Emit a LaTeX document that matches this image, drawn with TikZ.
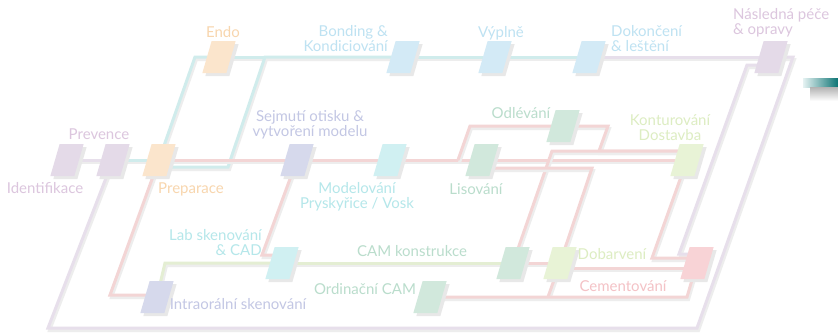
\documentclass[tikz,border=0pt]{standalone}
\usepackage{fontspec}
\setmainfont{Lato}
\usetikzlibrary{calc}
\pgfdeclarelayer{bg}
\pgfsetlayers{bg,main}
\definecolor{lavbox}{HTML}{E4DAE8}
\definecolor{lavl}{HTML}{E7DFEB}
\definecolor{lavt}{HTML}{DCC6DE}
\definecolor{orabox}{HTML}{FBE5CC}
\definecolor{orat}{HTML}{F8D6AE}
\definecolor{blubox}{HTML}{D3EAF6}
\definecolor{blut}{HTML}{BEE2F2}
\definecolor{teall}{HTML}{D0ECEC}
\definecolor{indbox}{HTML}{D6D9EC}
\definecolor{indt}{HTML}{C3C7E4}
\definecolor{cyabox}{HTML}{D0F0F2}
\definecolor{cyat}{HTML}{B5E7EA}
\definecolor{grnbox}{HTML}{D1E8DC}
\definecolor{grnt}{HTML}{BADDCC}
\definecolor{limbox}{HTML}{E8F3D6}
\definecolor{limt}{HTML}{DDEDC2}
\definecolor{pnkbox}{HTML}{F8D3D6}
\definecolor{pnkt}{HTML}{F4C2C6}
\definecolor{redl}{HTML}{F3D5D5}
\definecolor{grnl}{HTML}{E4EED3}
\tikzset{
  stagebox/.style={rectangle, minimum width=24bp, minimum height=32bp, inner sep=0pt,
    fill=#1, xslant=0.29, transform shape},
  lbl/.style={text=#1, font=\fontsize{15bp}{15bp}\selectfont, inner sep=0pt},
  route/.style={draw=#1, line width=3bp,
    preaction={draw=black!7, line width=3bp, transform canvas={shift={(1.5bp,-2.5bp)}}}},
}
\begin{document}
\begin{tikzpicture}[x=1bp,y=-1bp]
    \useasboundingbox (0,0) rectangle (838,335);
    \foreach \n/\x/\y/\c in {ident/67/160/lavbox,prev/113/160/lavbox,prep/159/160/orabox,%
    endo/219/57/orabox,bond/403/57/blubox,vypl/495/57/blubox,dokon/589/57/blubox,nasl/771/57/lavbox,%
    sejm/297/160/indbox,model/390/160/cyabox,lis/482/160/grnbox,odl/563/126/grnbox,kont/687/160/limbox,%
    lab/282/263/cyabox,intra/157/297/indbox,camk/513/263/grnbox,dobar/560/263/limbox,%
    cem/697/263/pnkbox,ordin/430/297/grnbox}
    {
    \begin{scope}[shift={(\x,\y)}]
    \node[stagebox=black!9] at (3,3) {};
    \node[stagebox=\c] (\n) at (0,0) {};
    \end{scope}
    }
    \node[lbl=lavt] (identl) at (45,188) {Identifikace};
    \node[lbl=lavt] (prevl) at (99,134) {Prevence};
    \node[lbl=orat] (prepl) at (191,189) {Preparace};
    \node[lbl=orat] (endol) at (223,32) {Endo};
    \node[lbl=blut, align=right, anchor=east] (bondl) at (388,39) {Bonding \&\\Kondiciování};
    \node[lbl=blut] (vypll) at (501,33) {Výplně};
    \node[lbl=blut, align=left, anchor=west] (dokonl) at (611,39) {Dokončení\\\& leštění};
    \node[lbl=lavt, align=left, anchor=west] (nasll) at (733,23) {Následná péče\\\& opravy};
    \node[lbl=indt, align=center] (sejml) at (310,125) {Sejmutí otisku \&\\vytvoření modelu};
    \node[lbl=cyat, align=center] (modell) at (357,197) {Modelování\\Pryskyřice / Vosk};
    \node[lbl=grnt] (lisl) at (476,189) {Lisování};
    \node[lbl=grnt] (odll) at (521,113) {Odlévání};
    \node[lbl=limt, align=center] (kontl) at (670,128) {Konturování\\Dostavba};
    \node[lbl=cyat, align=right, anchor=east] (labl) at (262,243) {Lab skenování\\\& CAD};
    \node[lbl=indt] (intral) at (238,304) {Intraorální skenování};
    \node[lbl=grnt] (camkl) at (412,251) {CAM konstrukce};
    \node[lbl=grnt] (ordinl) at (365,289) {Ordinační CAM};
    \node[lbl=limt] (dobarl) at (612,254) {Dobarvení};
    \node[lbl=pnkt] (ceml) at (623,286) {Cementování};
    \shade[left color=teal!10, right color=teal!85!black] (803,78) rectangle (840,87);
    \shade[top color=black!30, bottom color=white] (810,87) rectangle (840,101);
    \begin{pgfonlayer}{bg}
    \fill[white] (0,0) rectangle (838,335);
    \draw[route=teall] (prev.center) -- (prep.center);
    \draw[route=teall] (prep.center) -- ++(36,-103) -- (endo.center);
    \draw[route=teall] (endo.center) -- (bond.center);
    \draw[route=teall] (bond.center) -- (vypl.center);
    \draw[route=teall] (vypl.center) -- (dokon.center);
    \draw[route=teall] ($(prep)+(0,7)$) -- ++(69,0) -- ++(37,-110) -- (bond.center);
    \draw[route=lavl] (ident.center) -- (prev.center);
    \draw[route=lavl] (dokon.center) -- (nasl.center);
    \draw[route=lavl] ($(nasl)+(0,8)$) -- ++(-24,0) -- ++(-68,189) -- ($(cem)+(0,-9)$);
    \draw[route=lavl] (nasl.center) -- ++(22,0) -- ++(-96,271) -- ++(-649,0) -- (prev.center);
    \draw[route=redl] (prep.center) -- (sejm.center);
    \draw[route=redl] (sejm.center) -- (model.center);
    \draw[route=redl] (model.center) -- (lis.center);
    \draw[route=redl] (lis.center) -- (kont.center);
    \draw[route=redl] (lis.center) ++(-24,0) -- ++(12,-34) -- (odl.center);
    \draw[route=redl] (odl.center) -- ++(45,0) -- ++(-9,25) -- ($(kont)+(0,-9)$);
    \draw[route=redl] (camk.center) -- ++(39,-112) -- ($(kont)+(0,-9)$);
    \draw[route=redl] ($(lis)+(0,8)$) -- ++(110,0) -- (dobar.center);
    \draw[route=redl] (dobar.center) -- ++(-12,34);
    \draw[route=redl] (ordin.center) -- ++(257,0) -- (cem.center);
    \draw[route=redl] (kont.center) -- ++(-35,98) -- ($(cem)+(0,-5)$);
    \draw[route=redl] (camk.center) -- (dobar.center);
    \draw[route=redl] ($(dobar)+(0,5)$) -- ($(cem)+(0,5)$);
    \draw[route=redl] (sejm.center) -- ++(-35,95) -- ($(lab)+(0,-8)$);
    \draw[route=redl] (prep.center) -- ++(-49,135) -- ($(intra)+(0,-2)$);
    \draw[route=grnl] (intra.center) -- ++(8,-34) -- (lab.center);
    \draw[route=grnl] (lab.center) -- (camk.center);
    \end{pgfonlayer}
\end{tikzpicture}
\end{document}
